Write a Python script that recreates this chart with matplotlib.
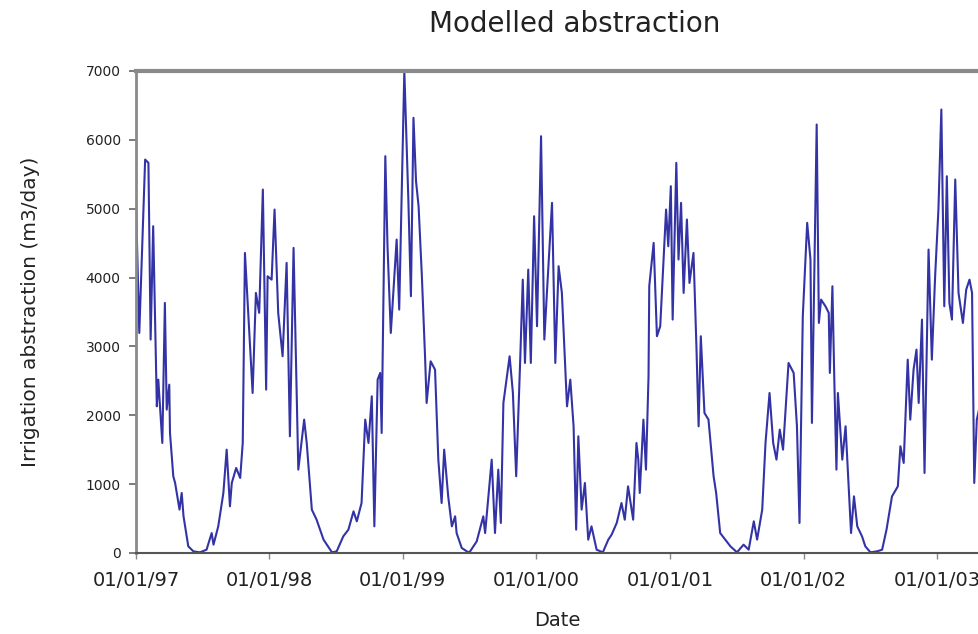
import datetime as dt
import matplotlib
matplotlib.use('Agg')
import matplotlib.pyplot as plt
import matplotlib.dates as mdates

# days since 01/01/97 and modelled abstraction (m3/day)
start_date = dt.date(1997, 1, 1)
days = [0, 9, 25, 34, 40, 47, 57, 61, 72, 79, 84, 91, 93, 102, 107, 119, 125, 130,
        143, 157, 175, 193, 207, 212, 225, 239, 248, 257, 262, 274, 285, 292, 298,
        307, 319, 328, 337, 347, 356, 360, 371, 379, 389, 401, 412, 421, 431, 444,
        460, 467, 481, 494, 513, 536, 549, 567, 581, 595, 604, 617, 627, 636, 645,
        652, 661, 668, 672, 682, 688, 697, 713, 720, 734, 745, 752, 759, 766, 773,
        782, 791, 795, 806, 818, 827, 836, 843, 854, 864, 873, 877, 891, 909,
        914, 932, 950, 955, 973, 982, 991, 998, 1005, 1022, 1031, 1040, 1051, 1058,
        1064, 1073, 1080, 1089, 1097, 1108, 1117, 1124, 1138, 1147, 1156, 1165,
        1179, 1188, 1197, 1204, 1210, 1219, 1228, 1237, 1246, 1260, 1277, 1292,
        1301, 1315, 1328, 1337, 1346, 1360, 1369, 1374,
        1378, 1388, 1395, 1402, 1404, 1416, 1425, 1434, 1443, 1450, 1456, 1463,
        1468, 1478, 1484, 1491, 1498, 1507, 1514, 1525, 1533, 1539, 1545, 1555,
        1566, 1580, 1587, 1598, 1612, 1626, 1644, 1662, 1676, 1690, 1699, 1713,
        1722, 1733, 1743, 1752, 1761, 1770, 1785, 1799, 1808, 1815, 1824, 1836,
        1845, 1849, 1862, 1868, 1874, 1886, 1895, 1898, 1905, 1910, 1916, 1920,
        1932, 1941, 1950, 1956, 1964, 1973, 1986, 1995, 2009, 2027, 2041, 2053,
        2068, 2084, 2091, 2100, 2111, 2118, 2127, 2135, 2141, 2150, 2157, 2168,
        2177, 2186, 2195, 2203, 2211, 2218, 2225, 2232, 2241, 2250, 2262, 2271,
        2280, 2287, 2293, 2300, 2306, 2315]
abstraction = [5085, 3196, 5714, 5666, 3100, 4746, 2130, 2518, 1598, 3632, 2082, 2445, 1743, 1114, 1017, 630, 872, 533,
               97, 24, 10, 48, 290, 121, 387, 872, 1501, 678, 1017, 1235, 1090, 1598, 4358,
               3487, 2324, 3777, 3487, 5278, 2373, 4019, 3970, 4988, 3487, 2857, 4213, 1695, 4431, 1211,
               1937, 1598, 630, 484, 194, 10, 24, 242, 339, 605, 460, 726, 1937, 1598, 2276,
               387, 2518, 2615, 1743, 5763, 4455, 3196, 4552, 3535, 7000, 5133, 3729, 6320, 5400, 5036,
               4019, 2808, 2179, 2784, 2663, 1356, 726, 1501, 823, 387, 533, 290, 73, 10,
               24, 169, 533, 290, 1356, 290, 1211, 436, 2179, 2857, 2324, 1114, 2808, 3970,
               2760, 4116, 2760, 4891, 3293, 6053, 3100, 3777, 5085, 2760, 4165, 3777,
               2130, 2518, 1840, 339, 1695, 630, 1017, 194, 387, 48, 10, 194,
               266, 436, 726, 484, 968, 484, 1598, 1356,
               872, 1937, 1211, 2566, 3874, 4504, 3148, 3293, 4262, 4988, 4455, 5327,
               3390, 5666, 4262, 5085, 3777, 4843, 3922, 4358, 3002, 1840, 3148, 2034,
               1937, 1114, 872, 290, 194, 97, 10, 121, 48, 460, 194, 630,
               1598, 2324, 1598, 1356, 1792, 1501, 2760, 2615, 1840, 436, 3438, 4795,
               4262, 1889, 6223, 3341, 3680, 3583, 3487, 2615, 3874, 2566, 1211, 2324,
               1356, 1840, 920, 290, 823, 387, 242, 97, 10, 24, 48, 339,
               823, 968, 1550, 1308, 2808, 1937, 2663, 2954, 2179, 3390, 1162, 4407,
               2808, 4019, 4988, 6441, 3583, 5472, 3632, 3390, 5424, 3777, 3341, 3825,
               3970, 3777, 1017, 1937, 2082, 2000]
yticks = [0, 1000, 2000, 3000, 4000, 5000, 6000, 7000]

dates = [start_date + dt.timedelta(days=d) for d in days]

fig = plt.figure(figsize=(9.79, 6.34), dpi=100)
ax = fig.add_axes([136 / 979, 81 / 634, 843 / 979, 482 / 634])

ax.plot(dates, abstraction, color='#3333a6', linewidth=1.5)

ax.set_xlim(start_date, start_date + dt.timedelta(days=2306))
ax.set_ylim(0, 7000)
ax.set_yticks(yticks)
ax.xaxis.set_major_locator(mdates.YearLocator())
ax.xaxis.set_major_formatter(mdates.DateFormatter('%d/%m/%y'))

for side in ['left', 'bottom', 'top']:
    ax.spines[side].set_color('#8a8a8a')
ax.spines['right'].set_visible(False)
ax.spines['top'].set_linewidth(3)
ax.spines['left'].set_linewidth(2)
ax.spines['bottom'].set_linewidth(1.5)
ax.spines['bottom'].set_color('#555555')

ax.tick_params(axis='y', direction='out', length=5, width=1.2, color='#666666',
               labelsize=10, pad=6, labelcolor='#222222')
ax.tick_params(axis='x', direction='out', length=4, width=1, color='#888888',
               labelsize=14, pad=9, labelcolor='#222222')

ax.set_ylabel('Irrigation abstraction (m3/day)', fontsize=14.5, color='#222222', labelpad=33)
ax.set_xlabel('Date', fontsize=14, color='#222222', labelpad=15)
fig.text(0.587, 0.962, 'Modelled abstraction', ha='center', va='center',
         fontsize=20, color='#222222')

fig.savefig('out.png', dpi=100)
